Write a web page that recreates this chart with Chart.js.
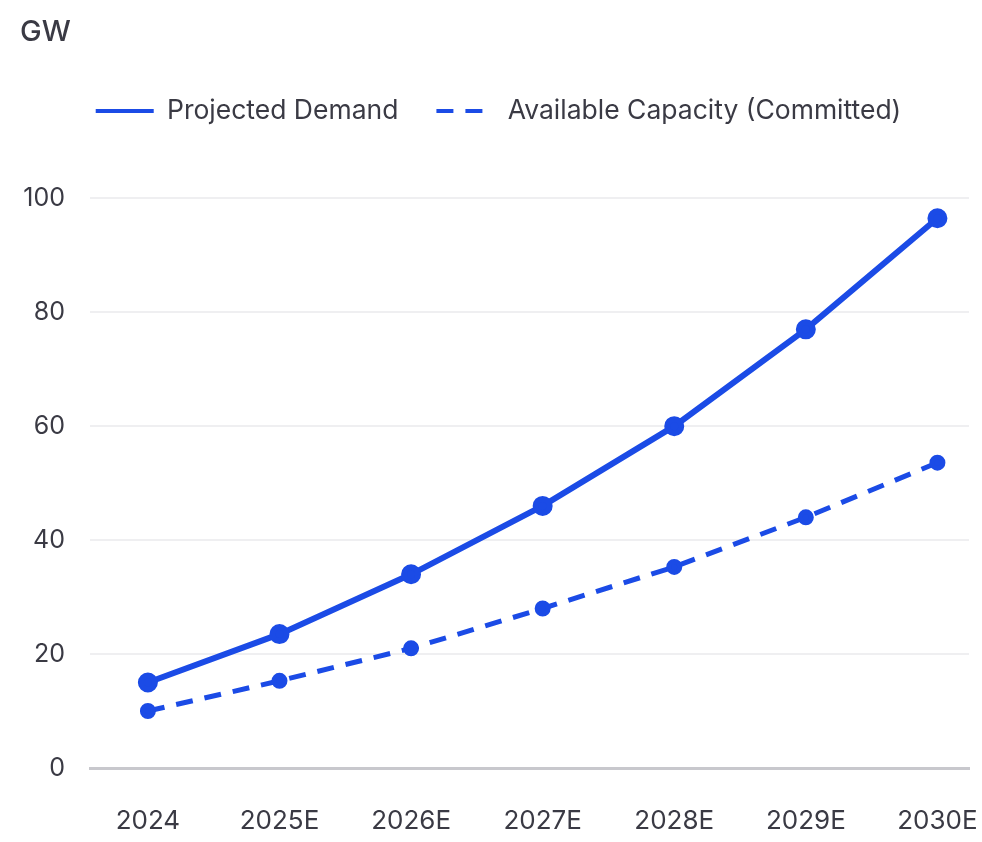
<!DOCTYPE html>
<html>
<head>
<meta charset="utf-8">
<script src="https://cdn.jsdelivr.net/npm/chart.js@4"></script>
<style>
  html, body { margin: 0; padding: 0; background: #fff; }
  #wrap { width: 982px; height: 842px; }
</style>
</head>
<body>
<div id="wrap"><canvas id="gwChart"></canvas></div>
<script>
const years = ['2024', '2025E', '2026E', '2027E', '2028E', '2029E', '2030E'];
const demand = [15, 23.5, 34, 46, 60, 77, 96.5];
const capacity = [10, 15.3, 21, 28, 35.3, 44, 53.6];
const yTicks = [0, 20, 40, 60, 80, 100];

const blue = '#1b4be6';
const textColor = '#3a3a44';

function toPoints(values) {
    return values.map(function(v, i) { return { x: i, y: v }; });
}

// push the plot area down below the legend
const legendSpacer = {
    id: 'legendSpacer',
    beforeInit: function(chart) {
        const fit = chart.legend.fit;
        chart.legend.fit = function() {
            fit.bind(chart.legend)();
            this.height += 64;
        };
    }
};

const ctx = document.getElementById('gwChart').getContext('2d');
new Chart(ctx, {
    type: 'line',
    data: {
        datasets: [
            {
                label: 'Projected Demand',
                data: toPoints(demand),
                borderColor: blue,
                backgroundColor: blue,
                borderWidth: 6,
                pointRadius: 7,
                pointBackgroundColor: blue,
                pointBorderColor: blue,
                tension: 0,
                fill: false
            },
            {
                label: 'Available Capacity (Committed)',
                data: toPoints(capacity),
                borderColor: blue,
                backgroundColor: blue,
                borderWidth: 5,
                borderDash: [17, 12],
                pointRadius: 5.5,
                pointBackgroundColor: blue,
                pointBorderColor: blue,
                tension: 0,
                fill: false
            }
        ]
    },
    options: {
        responsive: true,
        maintainAspectRatio: false,
        animation: false,
        layout: { padding: { left: 20, right: 5, top: 0, bottom: 0 } },
        scales: {
            x: {
                type: 'linear',
                min: -0.44,
                max: 6.24,
                afterBuildTicks: function(scale) {
                    scale.ticks = years.map(function(_, i) { return { value: i }; });
                },
                afterFit: function(scale) {
                    scale.height = 74;
                    scale.paddingLeft = 0;
                    scale.paddingRight = 0;
                },
                ticks: {
                    color: textColor,
                    font: { family: 'Inter', size: 26 },
                    padding: 38,
                    maxRotation: 0,
                    autoSkip: false,
                    callback: function(value) { return years[value]; }
                },
                grid: { display: false, drawTicks: false },
                border: { display: true, color: '#c8c8cd', width: 3 }
            },
            y: {
                min: 0,
                max: 100,
                afterBuildTicks: function(scale) {
                    scale.ticks = yTicks.map(function(v) { return { value: v }; });
                },
                afterFit: function(scale) { scale.width = 70; },
                ticks: {
                    color: textColor,
                    font: { family: 'Inter', size: 25 },
                    padding: 25
                },
                grid: { color: '#efeff1', lineWidth: 2, drawTicks: false },
                border: { display: false }
            }
        },
        plugins: {
            title: {
                display: true,
                text: 'GW',
                align: 'start',
                color: textColor,
                font: { family: 'Inter', size: 29, weight: '500' },
                padding: { top: 15, bottom: 10 }
            },
            legend: {
                display: true,
                labels: {
                    color: textColor,
                    font: { family: 'Inter', size: 26.5 },
                    usePointStyle: true,
                    pointStyle: 'line',
                    pointStyleWidth: 58,
                    padding: 38,
                    generateLabels: function(chart) {
                        const items = Chart.defaults.plugins.legend.labels.generateLabels(chart);
                        items.forEach(function(item, i) {
                            item.lineWidth = 4;
                            item.pointStyle = 'line';
                            item.lineDash = chart.data.datasets[i].borderDash || [];
                        });
                        return items;
                    }
                }
            },
            tooltip: { enabled: false }
        }
    },
    plugins: [legendSpacer]
});
</script>
</body>
</html>
